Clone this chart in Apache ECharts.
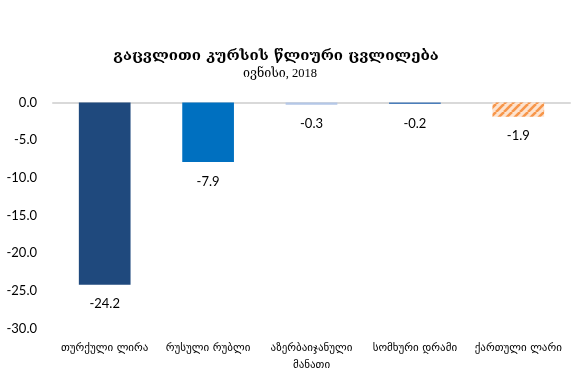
<!DOCTYPE html>
<html><head><meta charset="utf-8">
<script src="https://cdn.jsdelivr.net/npm/echarts@6/dist/echarts.min.js"></script>
<style>html,body{margin:0;padding:0;background:#fff}#c{width:573px;height:385px}</style>
</head><body><div id="c"></div>
<script>
const titleText = 'გაცვლითი კურსის წლიური ცვლილება';
const subtitleText = 'ივნისი, 2018';
const categories = ['თურქული ლირა', 'რუსული რუბლი', 'აზერბაიჯანული\nმანათი', 'სომხური დრამი', 'ქართული ლარი'];
const values = [-24.2, -7.9, -0.3, -0.2, -1.9];
const yMin = -30, yMax = 0, yStep = 5;

function stripes() {
  const c = document.createElement('canvas');
  c.width = 8; c.height = 8;
  const g = c.getContext('2d');
  g.fillStyle = '#fde3cf'; g.fillRect(0, 0, 8, 8);
  g.strokeStyle = '#f7964a'; g.lineWidth = 2.6;
  for (let k = -16; k <= 16; k += 8) {
    g.beginPath(); g.moveTo(k, 8); g.lineTo(k + 8, 0); g.stroke();
  }
  return c;
}
const barColors = ['#1f497d', '#0070c0', '#b4c7e7', '#4a7ebb', {image: stripes(), repeat: 'repeat'}];

const chart = echarts.init(document.getElementById('c'));
const font = 'Lato, "DejaVu Sans", sans-serif';
chart.setOption({
  animation: false,
  grid: {left: 53, right: 3, top: 102.5, bottom: 56.6, containLabel: false},
  xAxis: {
    type: 'category', data: categories, position: 'top',
    axisLine: {show: true, lineStyle: {color: '#d9d9d9', width: 2}},
    axisTick: {show: false},
    axisLabel: {show: false}
  },
  yAxis: {
    type: 'value', min: yMin, max: yMax, interval: yStep,
    axisLine: {show: false}, axisTick: {show: false}, splitLine: {show: false},
    axisLabel: {formatter: v => v.toFixed(1), fontFamily: font, fontSize: 13, color: '#000', margin: 16}
  },
  series: [{
    type: 'bar', barWidth: '50%',
    data: values.map((v, i) => ({value: v, itemStyle: {color: barColors[i]}})),
    label: {show: true, position: 'bottom', distance: 13, formatter: p => p.value.toFixed(1), fontFamily: font, fontSize: 13, color: '#000'}
  }]
});
const g = [
  {type: 'text', x: 276, y: 56, style: {text: titleText, fontFamily: '"DejaVu Serif", "DejaVu Sans", serif', fontSize: 15, fontWeight: 'bold', fill: '#000', align: 'center', verticalAlign: 'middle'}},
  {type: 'text', x: 280, y: 74, style: {text: subtitleText, fontFamily: '"Liberation Serif", "DejaVu Serif", serif', fontSize: 12.5, fill: '#000', align: 'center', verticalAlign: 'middle'}}
];
categories.forEach((c, i) => {
  const p = chart.convertToPixel({xAxisIndex: 0, yAxisIndex: 0}, [i, yMin]);
  g.push({type: 'text', x: p[0], y: p[1] + 11, style: {text: c, fontFamily: '"DejaVu Sans", sans-serif', fontSize: 11, fill: '#000', align: 'center', verticalAlign: 'top', lineHeight: 17}});
});
chart.setOption({graphic: g});
</script></body></html>
